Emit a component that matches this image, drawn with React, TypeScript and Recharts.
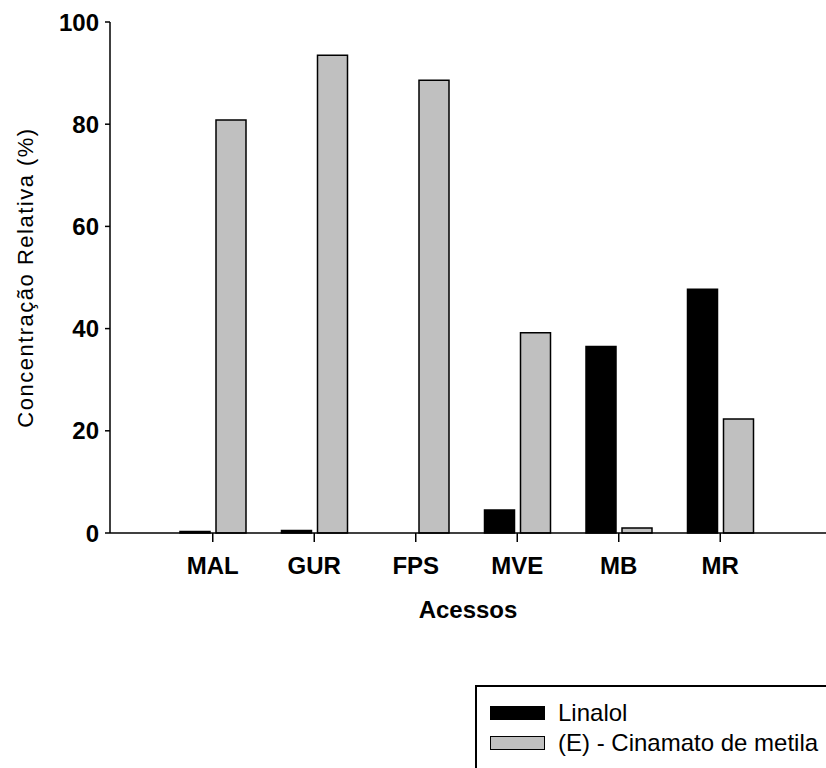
import { BarChart, Bar, XAxis, YAxis } from 'recharts';

const categories = ['MAL', 'GUR', 'FPS', 'MVE', 'MB', 'MR'];
const linalol = [0.3, 0.5, 0, 4.5, 36.5, 47.7];
const cinamato = [80.8, 93.5, 88.6, 39.2, 1.0, 22.3];
const yTicks = [0, 20, 40, 60, 80, 100];
const seriesNames = ['Linalol', '(E) - Cinamato de metila'];
const seriesFills = ['#000', '#c0c0c0'];

const data = categories.map((name, i) => ({
  name,
  linalol: linalol[i],
  cinamato: cinamato[i],
}));

const font = 'Arial, "Liberation Sans", sans-serif';

function LegendBox() {
  return (
    <div
      style={{
        position: 'absolute',
        left: 475,
        top: 685,
        width: 380,
        height: 100,
        border: '2px solid #000',
        background: '#fff',
        boxSizing: 'border-box',
        paddingTop: 11,
        paddingLeft: 13,
        fontFamily: font,
        fontSize: 24,
        color: '#000',
      }}
    >
      {seriesNames.map((name, i) => (
        <div key={name} style={{ display: 'flex', alignItems: 'center', height: 30, whiteSpace: 'nowrap' }}>
          <span
            style={{
              display: 'inline-block',
              width: 55,
              height: 14,
              background: seriesFills[i],
              border: '1.5px solid #000',
              boxSizing: 'border-box',
              marginRight: 13,
              flexShrink: 0,
            }}
          />
          <span>{name}</span>
        </div>
      ))}
    </div>
  );
}

export default function App() {
  return (
    <div style={{ position: 'absolute', left: 0, top: 0, width: 826, height: 768, background: '#fff', overflow: 'hidden' }}>
      <BarChart
        width={826}
        height={768}
        data={data}
        margin={{ top: 22, right: 0, bottom: 135, left: 0 }}
        barSize={30}
        barGap={6}
      >
        <XAxis
          dataKey="name"
          height={100}
          padding={{ left: 52, right: 55 }}
          stroke="#000"
          strokeWidth={1.5}
          tickSize={9}
          tickMargin={15}
          tick={{ fill: '#000', fontSize: 24, fontWeight: 'bold', fontFamily: font }}
          label={{
            value: 'Acessos',
            position: 'insideBottom',
            offset: 15,
            style: { fill: '#000', fontSize: 24, fontWeight: 'bold', fontFamily: font },
          }}
        />
        <YAxis
          width={110}
          domain={[0, 100]}
          ticks={yTicks}
          stroke="#000"
          strokeWidth={1.5}
          tickSize={5}
          tickMargin={6}
          tick={{ fill: '#000', fontSize: 24, fontWeight: 'bold', fontFamily: font }}
          label={{
            value: 'Concentração Relativa (%)',
            angle: -90,
            position: 'insideLeft',
            offset: 25,
            style: { fill: '#000', fontSize: 22, fontFamily: font, textAnchor: 'middle', letterSpacing: 1.5 },
          }}
        />
        <Bar dataKey="linalol" name={seriesNames[0]} fill={seriesFills[0]} stroke="#000" strokeWidth={1.5} isAnimationActive={false} />
        <Bar
          dataKey="cinamato"
          name={seriesNames[1]}
          fill={seriesFills[1]}
          stroke="#000"
          strokeWidth={1.5}
          isAnimationActive={false}
        />
      </BarChart>
      <LegendBox />
    </div>
  );
}
